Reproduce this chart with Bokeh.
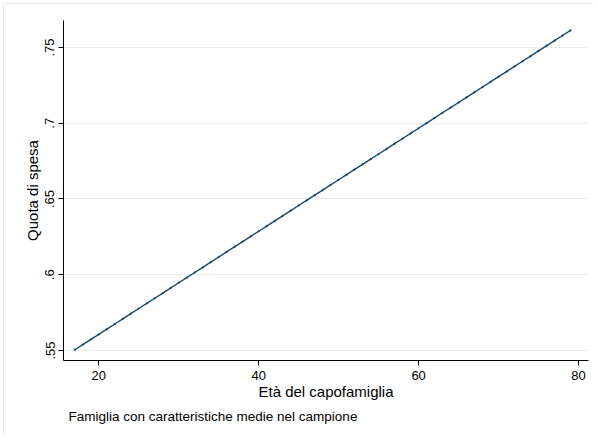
from bokeh.plotting import figure
from bokeh.models import Range1d, FixedTicker, Title
from bokeh.layouts import column
from bokeh.embed import file_html
from bokeh.resources import INLINE

# Predicted expenditure share by age of household head (average household)
eta = list(range(17, 80))
quota = [
    0.5505, 0.5539, 0.5573, 0.5607, 0.5641, 0.5675, 0.5709, 0.5743, 0.5777, 0.5811,
    0.5845, 0.5879, 0.5913, 0.5947, 0.5981, 0.6015, 0.6049, 0.6083, 0.6117, 0.6151,
    0.6185, 0.6219, 0.6253, 0.6287, 0.6321, 0.6355, 0.6389, 0.6423, 0.6457, 0.6491,
    0.6525, 0.6559, 0.6593, 0.6627, 0.6661, 0.6695, 0.6729, 0.6763, 0.6797, 0.6831,
    0.6865, 0.6899, 0.6933, 0.6967, 0.7001, 0.7035, 0.7069, 0.7103, 0.7137, 0.7171,
    0.7205, 0.7239, 0.7273, 0.7307, 0.7341, 0.7375, 0.7409, 0.7443, 0.7477, 0.7511,
    0.7545, 0.7579, 0.7613,
]

x_ticks = [20, 40, 60, 80]
y_ticks = [0.55, 0.60, 0.65, 0.70, 0.75]
y_tick_labels = [".55", ".6", ".65", ".7", ".75"]

FONT = "Liberation Sans"
NAVY = "#1a476f"

p = figure(
    width=590, height=432,
    output_backend="svg", toolbar_location=None,
    x_range=Range1d(15.58, 81.25), y_range=Range1d(0.5434, 0.7678),
    min_border_left=59, min_border_right=4, min_border_top=16, min_border_bottom=74,
    background_fill_color="white", border_fill_color="white",
)
p.outline_line_color = None

p.line(eta, quota, line_color=NAVY, line_width=1.4)
p.scatter(eta, quota, size=1.4, color=NAVY)

# Axes
p.xaxis.ticker = FixedTicker(ticks=x_ticks)
p.yaxis.ticker = FixedTicker(ticks=y_ticks)
p.yaxis.major_label_overrides = {t: l for t, l in zip(y_ticks, y_tick_labels)}
p.yaxis.major_label_orientation = "vertical"

for ax in (p.xaxis, p.yaxis):
    ax.axis_line_color = "black"
    ax.axis_line_width = 1
    ax.major_tick_line_color = "black"
    ax.major_tick_in = 0
    ax.major_tick_out = 5
    ax.minor_tick_line_color = None
    ax.major_label_text_font = FONT
    ax.major_label_text_font_size = "13px"
    ax.major_label_text_color = "black"
    ax.axis_label_text_font = FONT
    ax.axis_label_text_font_size = "15px"
    ax.axis_label_text_font_style = "normal"
    ax.axis_label_text_color = "black"

p.xaxis.axis_label = "Età del capofamiglia"
p.yaxis.axis_label = "Quota di spesa"
p.xaxis.major_label_standoff = 5
p.xaxis.axis_label_standoff = 0
p.yaxis.major_label_standoff = 4
p.yaxis.axis_label_standoff = 2

p.xgrid.grid_line_color = None
p.ygrid.grid_line_color = "#e6eef0"
p.ygrid.grid_line_width = 1

# Note under the chart
note = Title(text="Famiglia con caratteristiche medie nel campione", align="left",
             text_font=FONT, text_font_size="13.5px", text_font_style="normal",
             text_color="black", offset=5, standoff=9)
p.add_layout(note, "below")

# Graph region: white page with a faint edge along its top and left sides
page = column(p, width=590, height=432,
              styles={"border": "1px solid transparent",
                      "border-top-color": "#e4ecef", "border-left-color": "#e4ecef",
                      "margin": "3px", "background-color": "white"})

open("out.html", "w").write(file_html(page, INLINE))
